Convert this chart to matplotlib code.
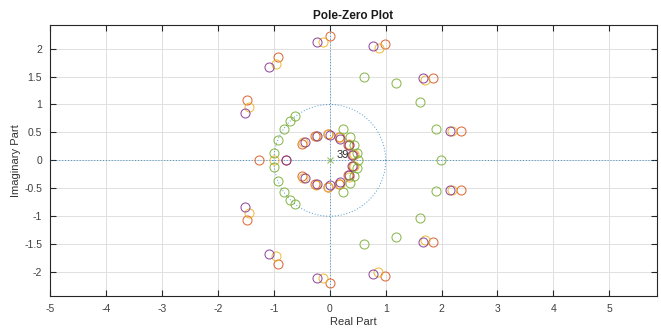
import matplotlib.pyplot as plt
import numpy as np

plt.rcParams['font.family'] = ['Liberation Sans', 'DejaVu Sans']
plt.rcParams['axes.unicode_minus'] = False

# zeros of the four filters (real part, imaginary part)
orange_re = [0.0, 0.0, 0.99, 0.99, -0.93, -0.93, -1.48, -1.48, 1.85, 1.85, 2.34, 2.34, -1.26,
             -0.49, -0.49, -0.27, -0.27, -0.04, -0.04, 0.17, 0.17, 0.33, 0.33, 0.41, 0.41, -0.79]
orange_im = [2.22, -2.20, 2.09, -2.07, 1.85, -1.85, 1.08, -1.07, 1.48, -1.47, 0.53, -0.53, 0.0,
             0.29, -0.28, 0.43, -0.42, 0.47, -0.47, 0.42, -0.42, 0.28, -0.27, 0.10, -0.10, 0.0]

yellow_re = [-0.12, -0.12, 0.88, 0.86, -0.97, -0.97, -1.45, -1.45, 1.70, 1.70, 2.18, 2.18, -1.0,
             -0.48, -0.48, -0.25, -0.25, -0.03, -0.03, 0.18, 0.18, 0.34, 0.34, 0.43, 0.43]
yellow_im = [2.12, -2.10, 2.01, -2.00, 1.73, -1.72, 0.95, -0.95, 1.44, -1.43, 0.53, -0.53, 0.0,
             0.32, -0.31, 0.44, -0.44, 0.47, -0.47, 0.42, -0.42, 0.29, -0.29, 0.11, -0.11]

purple_re = [-0.23, -0.23, 0.78, 0.78, -1.09, -1.09, -1.52, -1.52, 1.66, 1.66, 2.16, 2.16,
             -0.45, -0.45, -0.22, -0.22, 0.0, 0.0, 0.18, 0.18, 0.34, 0.34, 0.40, 0.40, -0.79]
purple_im = [2.12, -2.10, 2.05, -2.04, 1.68, -1.68, 0.85, -0.84, 1.48, -1.47, 0.53, -0.53,
             0.33, -0.32, 0.44, -0.43, 0.45, -0.44, 0.39, -0.39, 0.27, -0.26, 0.10, -0.10, 0.0]

green_re = [-0.62, -0.62, -0.71, -0.71, -0.82, -0.82, -0.93, -0.93, -0.99, -0.99,
            0.62, 0.62, 1.19, 1.19, 1.62, 1.62, 1.90, 1.90, 1.99,
            0.24, 0.24, 0.36, 0.36, 0.43, 0.43, 0.48, 0.48, 0.50]
green_im = [0.79, -0.78, 0.71, -0.71, 0.57, -0.56, 0.37, -0.37, 0.13, -0.12,
            1.50, -1.49, 1.38, -1.37, 1.04, -1.04, 0.56, -0.55, 0.0,
            0.57, -0.56, 0.42, -0.41, 0.28, -0.28, 0.14, -0.14, 0.0]

pole_re = [0.0]
pole_im = [0.0]
pole_count = 39

c_blue = (0.0, 0.447, 0.741)
c_orange = (0.85, 0.325, 0.098)
c_yellow = (0.929, 0.694, 0.125)
c_purple = (0.494, 0.184, 0.556)
c_green = (0.466, 0.674, 0.188)

fig = plt.figure(figsize=(6.61, 3.33), dpi=100)
ax = fig.add_axes([0.0762, 0.111, 0.9173, 0.815])

ax.set_xlim(-5, 5.85)
ax.set_ylim(-2.43, 2.43)

# unit circle and the two axes through the origin
t = np.linspace(0, 2 * np.pi, 200)
dot = dict(ls=(0, (1, 2)), color=c_blue, lw=0.7, alpha=0.7, zorder=2)
ax.plot(np.cos(t), np.sin(t), **dot)
ax.axhline(0, **dot)
ax.axvline(0, **dot)

mk = dict(marker='o', ls='none', mfc='none', ms=6.5, mew=0.75, alpha=0.85, zorder=3)
ax.plot(orange_re, orange_im, mec=c_orange, **mk)
ax.plot(yellow_re, yellow_im, mec=c_yellow, **mk)
ax.plot(purple_re, purple_im, mec=c_purple, **mk)
ax.plot(green_re, green_im, mec=c_green, **mk)

ax.plot(pole_re, pole_im, 'x', color=c_green, ms=5, mew=0.7, alpha=0.85, zorder=4)
ax.text(pole_re[0] + 0.12, pole_im[0] + 0.0, str(pole_count), fontsize=8,
        ha='left', va='bottom', color='#262626', zorder=5)

ax.set_xticks(np.arange(-5, 6, 1))
ax.set_yticks(np.arange(-2, 2.01, 0.5))
ax.set_yticklabels(['-2', '-1.5', '-1', '-0.5', '0', '0.5', '1', '1.5', '2'])
ax.grid(True, color='#e0e0e0', lw=0.7, zorder=0)
ax.set_axisbelow(True)
ax.tick_params(direction='in', top=True, right=True, length=4, width=0.8,
               labelsize=7.5, colors='#262626', labelcolor='#404040', pad=6)
for s in ax.spines.values():
    s.set_color('#262626')
    s.set_linewidth(0.8)

ax.set_title('Pole-Zero Plot', fontsize=8.5, fontweight='bold', color='#1a1a1a', pad=4)
ax.set_xlabel('Real Part', fontsize=8, color='#333333', labelpad=2)
ax.set_ylabel('Imaginary Part', fontsize=8, color='#333333', labelpad=2)

fig.savefig('out.png', dpi=100)
